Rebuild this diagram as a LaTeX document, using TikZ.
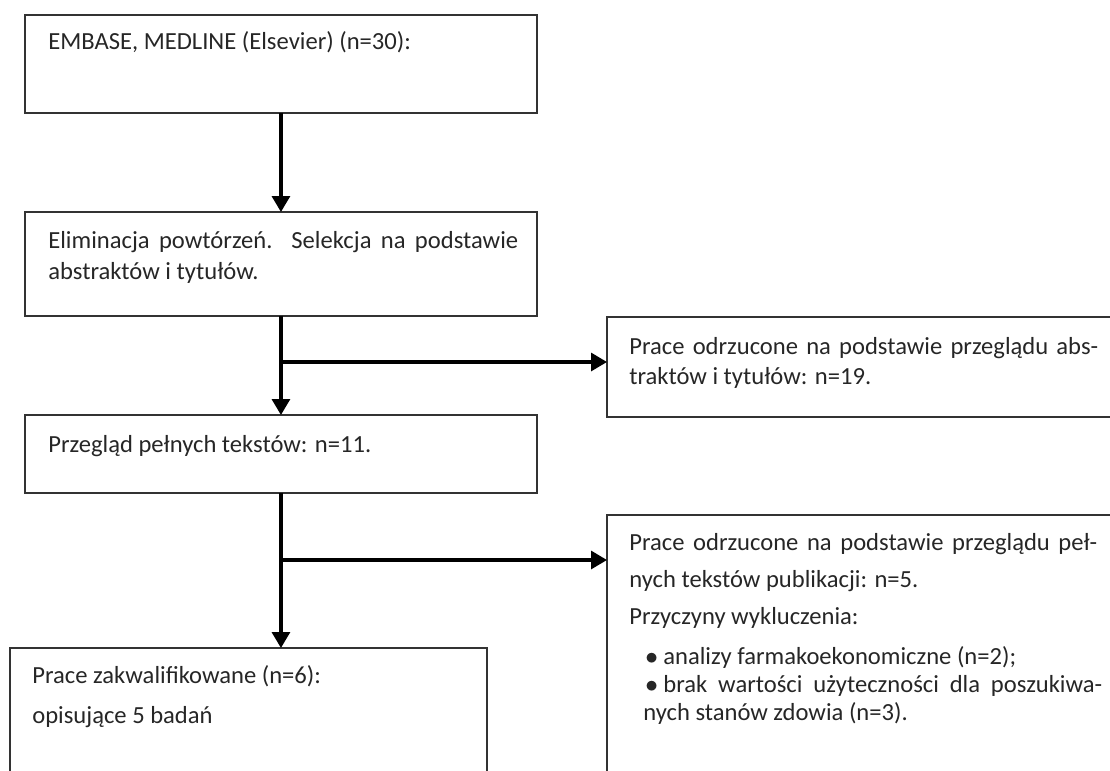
\documentclass[tikz,border=0pt]{standalone}
\usepackage{fontspec}
\setmainfont{Carlito}
\usetikzlibrary{arrows.meta}

\begin{document}
\begin{tikzpicture}[x=0.02cm,y=-0.02cm,
  box/.style={draw=black!80, line width=1.1pt, anchor=north west, inner sep=0pt, outer sep=0pt},
  txt/.style={anchor=base west, inner sep=0pt, font=\fontsize{14}{18}\selectfont, text=black!85},
  flow/.style={line width=1.8pt, -{Triangle[length=0.32cm,width=0.36cm]}}]
\useasboundingbox (0,0) rectangle (1110,771);
\clip (0,0) rectangle (1110,771);

% ramki
\node[box, minimum width=10.24cm, minimum height=1.96cm] (bazy) at (25,15) {};
\node[box, minimum width=10.24cm, minimum height=2.08cm] (selekcja) at (25,212) {};
\node[box, minimum width=10.24cm, minimum height=1.56cm] (przeglad) at (25,415) {};
\node[box, minimum width=10.8cm, minimum height=2cm] (odrzAbs) at (607,317) {};
\node[box, minimum width=9.54cm, minimum height=3.2cm] (wlaczone) at (10,648) {};
\node[box, minimum width=10.8cm, minimum height=5.6cm] (odrzPelne) at (607,515) {};

% teksty
\node[txt] (tBazy) at (48,49) {EMBASE, MEDLINE (Elsevier) (n=30):};
\node[txt] (tSel1) at (48,248) {\makebox[9.4cm][s]{Eliminacja powtórzeń. Selekcja na podstawie}};
\node[txt] (tSel2) at (48,279) {abstraktów i tytułów.};
\node[txt] (tPrzeglad) at (48,452) {Przegląd pełnych tekstów: n=11.};
\node[txt] (tAbs1) at (629,354) {\makebox[9.38cm][s]{Prace odrzucone na podstawie przeglądu abs-}};
\node[txt] (tAbs2) at (629,384) {traktów i tytułów: n=19.};
\node[txt] (tWl1) at (32,683) {Prace zakwalifikowane (n=6):};
\node[txt] (tWl2) at (32,723) {opisujące 5 badań};
\node[txt] (tPel1) at (629,550) {\makebox[9.36cm][s]{Prace odrzucone na podstawie przeglądu peł-}};
\node[txt] (tPel2) at (629,587) {nych tekstów publikacji: n=5.};
\node[txt] (tPrzyczyny) at (629,624) {Przyczyny wykluczenia:};
\node[txt] (pkt1) at (645,664) {$\bullet$};
\node[txt] (tPkt1) at (663,664) {analizy farmakoekonomiczne (n=2);};
\node[txt] (pkt2) at (645,692) {$\bullet$};
\node[txt] (tPkt2a) at (663,692) {\makebox[8.78cm][s]{brak wartości użyteczności dla poszukiwa-}};
\node[txt] (tPkt2b) at (643,720) {nych stanów zdowia (n=3).};

% strzalki
\coordinate (rozg1) at (283,362);
\coordinate (rozg2) at (283,560);
\draw[flow] (bazy.south) -- (selekcja.north);
\draw[flow] (selekcja.south) -- (przeglad.north);
\draw[flow] (rozg1) -- (rozg1 -| odrzAbs.west);
\draw[flow] (przeglad.south) -- (przeglad.south |- wlaczone.north);
\draw[flow] (rozg2) -- (rozg2 -| odrzPelne.west);
\end{tikzpicture}
\end{document}
